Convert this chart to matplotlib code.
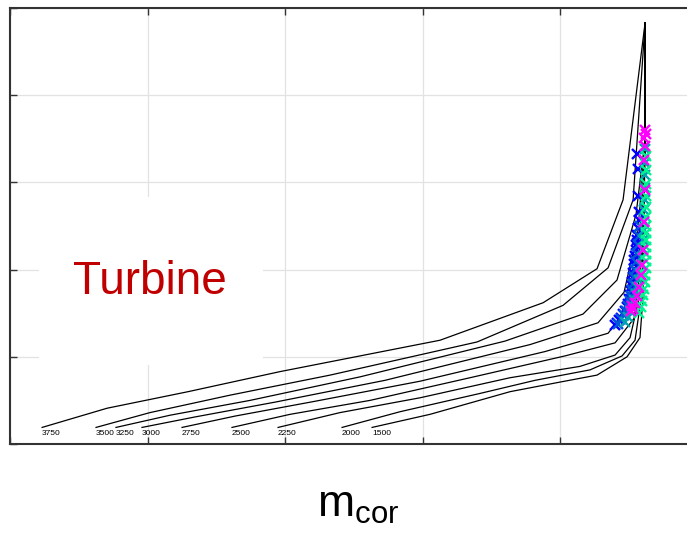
import matplotlib
matplotlib.use("Agg")
import matplotlib.pyplot as plt
from matplotlib.patches import Rectangle

plt.rcParams['font.family'] = ['Liberation Sans', 'DejaVu Sans']
plt.rcParams['mathtext.fontset'] = 'custom'
plt.rcParams['mathtext.rm'] = 'Liberation Sans'

# speed lines (corrected speed), outermost first
speed_labels = ['3750', '3500', '3250', '3000', '2750', '2500', '2250', '2000', '1500']
speed_x = [
    [2.33, 7.05, 12.94, 19.62, 31.25, 38.74, 42.66, 44.55, 46.15],
    [6.25, 10.17, 15.99, 23.26, 33.94, 40.19, 43.46, 45.28, 46.15],
    [7.70, 11.63, 17.44, 25.44, 35.97, 41.64, 44.11, 45.49, 46.15, 46.15],
    [9.59, 13.44, 19.26, 27.25, 37.79, 42.73, 44.62, 45.64, 46.15, 46.15],
    [12.50, 16.35, 22.17, 29.80, 38.88, 43.46, 45.06, 45.78, 46.15, 46.15],
    [16.13, 20.35, 26.16, 33.43, 40.33, 43.97, 45.35, 45.86, 46.15, 46.15],
    [19.48, 23.98, 29.80, 36.34, 41.42, 43.97, 45.06, 45.93, 46.15, 46.15],
    [24.13, 28.34, 34.16, 38.15, 42.15, 44.48, 45.42, 45.93, 46.15, 46.15],
    [26.31, 30.52, 36.34, 39.97, 42.66, 44.84, 45.78, 46.00, 46.15, 46.15],
]
speed_y = [
    [1.19, 1.41, 1.60, 1.83, 2.19, 2.62, 3.01, 3.80, 5.83],
    [1.19, 1.36, 1.56, 1.79, 2.17, 2.59, 3.02, 3.80, 5.83],
    [1.19, 1.33, 1.50, 1.77, 2.18, 2.49, 2.88, 3.63, 4.49, 5.83],
    [1.19, 1.31, 1.48, 1.73, 2.14, 2.39, 2.74, 3.45, 4.49, 5.83],
    [1.19, 1.32, 1.49, 1.72, 2.06, 2.27, 2.59, 3.28, 4.49, 5.83],
    [1.19, 1.34, 1.50, 1.76, 2.01, 2.16, 2.44, 3.09, 4.49, 5.83],
    [1.19, 1.36, 1.53, 1.76, 1.89, 2.02, 2.22, 2.82, 4.49, 5.83],
    [1.19, 1.37, 1.58, 1.73, 1.85, 2.01, 2.19, 2.74, 4.49, 5.83],
    [1.19, 1.34, 1.60, 1.71, 1.79, 2.00, 2.22, 2.69, 4.49, 5.83],
]

# operating points
op_blue_x = [43.97, 44.12, 44.26, 44.40, 44.55, 44.69, 44.80, 44.91, 44.99, 45.06,
             45.13, 45.17, 45.20, 45.24, 45.28, 45.31, 45.35, 45.38, 45.42, 45.46,
             45.49, 45.53, 45.57, 45.64, 45.71, 45.71, 45.64, 45.57, 45.64]
op_blue_y = [2.36, 2.39, 2.42, 2.45, 2.49, 2.53, 2.57, 2.61, 2.66, 2.71,
             2.76, 2.81, 2.86, 2.91, 2.96, 3.01, 3.06, 3.11, 3.16, 3.22,
             3.28, 3.34, 3.40, 3.48, 3.57, 3.66, 3.84, 4.32, 4.15]
op_mid_x = [44.19, 44.40, 44.62, 44.77, 44.91, 45.06, 45.13, 45.20, 45.28, 45.35,
            45.42, 45.49, 45.57, 45.64, 45.71, 45.78]
op_mid_y = [2.38, 2.43, 2.48, 2.53, 2.58, 2.64, 2.70, 2.77, 2.84, 2.92,
            3.00, 3.09, 3.18, 3.28, 3.38, 3.50]
op_teal_x = [44.69, 44.91, 45.06, 45.20, 45.35, 45.49, 45.57, 45.71, 45.78, 45.86,
             45.93, 46.00, 46.00, 46.07, 46.07, 46.07, 46.15, 46.15, 46.15, 46.15,
             46.15]
op_teal_y = [2.40, 2.46, 2.52, 2.58, 2.65, 2.72, 2.80, 2.88, 2.96, 3.05,
             3.14, 3.24, 3.34, 3.45, 3.56, 3.68, 3.80, 3.94, 4.08, 4.22,
             4.38]
op_green_x = [45.71, 45.86, 45.93, 46.00, 46.07, 46.15, 46.15, 46.22, 46.22, 46.22,
              46.22, 46.22, 46.22, 46.22, 46.22, 46.22, 46.22, 46.22, 46.22, 46.22]
op_green_y = [2.50, 2.57, 2.64, 2.71, 2.78, 2.86, 2.94, 3.02, 3.10, 3.18,
              3.26, 3.34, 3.42, 3.50, 3.60, 3.72, 3.84, 3.98, 4.14, 4.30]
op_mag_x = [46.15, 46.22, 46.07, 46.15, 46.07, 46.15, 46.07, 46.00, 45.93, 45.86,
            45.71, 45.57, 45.42, 45.28, 45.13, 45.20]
op_mag_y = [4.60, 4.55, 4.51, 4.42, 4.26, 3.91, 3.55, 3.22, 3.05, 2.94,
            2.80, 2.70, 2.62, 2.55, 2.52, 2.58]

op_series = [
    (op_blue_x, op_blue_y, '#0000ff'),
    (op_mid_x, op_mid_y, '#0058d8'),
    (op_teal_x, op_teal_y, '#00a5b0'),
    (op_green_x, op_green_y, '#00f590'),
    (op_mag_x, op_mag_y, '#ff00ff'),
]

fig = plt.figure(figsize=(6.87, 5.33), dpi=100)
ax = fig.add_axes([0.0146, 0.167, 1.0015, 0.818])

for xs, ys, lab in zip(speed_x, speed_y, speed_labels):
    ax.plot(xs, ys, color='black', lw=0.9, zorder=2)
    ax.annotate(lab, (xs[0], ys[0]), xytext=(0, -2), textcoords='offset points',
                ha='left', va='top', fontsize=6)

for xs, ys, col in op_series:
    ax.plot(xs, ys, 'x', color=col, markersize=6.5, mew=1.7, zorder=3)

ax.set_xlim(0, 50)
ax.set_ylim(1, 6)
ax.set_xticks(range(0, 51, 10))
ax.set_yticks(range(1, 7))
ax.set_xticklabels([])
ax.set_yticklabels([])
ax.tick_params(direction='in', length=5, width=1, top=True, right=True, color='#333333')
ax.grid(True, color='#e2e2e2', lw=0.9)
ax.set_axisbelow(True)
for sp in ax.spines.values():
    sp.set_linewidth(1.5)
    sp.set_color('#333333')

# white box behind the label
ax.add_patch(Rectangle((0.042, 0.181), 0.326, 0.385, transform=ax.transAxes,
                       facecolor='white', edgecolor='none', zorder=1))
ax.text(0.2035, 0.372, 'Turbine', transform=ax.transAxes, fontsize=33,
        color='#c00000', ha='center', va='center', zorder=4)

fig.text(0.521, 0.052, r'$\mathregular{m_{cor}}$', fontsize=32, ha='center', va='center')

fig.savefig('out.png', dpi=100)
